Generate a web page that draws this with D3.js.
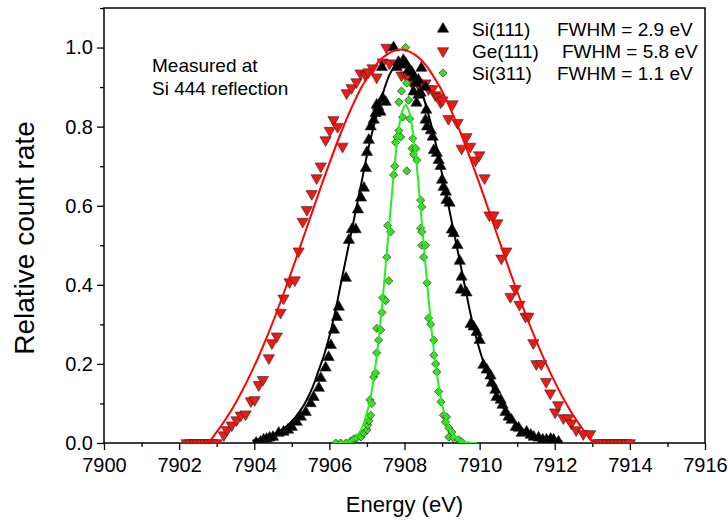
<!DOCTYPE html>
<html><head><meta charset="utf-8">
<script src="https://cdn.jsdelivr.net/npm/d3@7"></script>
<style>body{margin:0;background:#fff}svg text{font-family:"Liberation Sans",Arial,sans-serif}</style>
</head><body><svg id="c" width="728" height="522"></svg>
<script>
// ---- data (energy eV, relative count rate) ----
const geData = [[7902.2,0],[7902.3,0],[7902.4,0],[7902.5,0],[7902.6,0],[7902.7,0],[7902.8,0],[7902.9,0],[7903.0,0],
[7903.19,0.02],[7903.27,0.033],[7903.40,0.045],[7903.53,0.058],[7903.64,0.07],[7903.77,0.073],[7903.91,0.106],[7904.01,0.109],[7904.12,0.147],[7904.23,0.16],[7904.39,0.215],[7904.47,0.253],[7904.60,0.27],[7904.70,0.33],[7904.78,0.366],[7904.94,0.407],[7905.08,0.412],[7905.18,0.485],[7905.29,0.56],[7905.40,0.59],[7905.53,0.63],[7905.66,0.67],[7905.77,0.70],[7905.90,0.766],[7906.01,0.79],[7906.11,0.817],[7906.22,0.80],[7906.35,0.75],[7906.46,0.885],[7906.59,0.898],[7906.72,0.913],[7906.83,0.935],[7906.96,0.93],[7907.04,0.938],[7907.15,0.948],[7907.26,0.925],[7907.42,0.963],[7907.52,1.0],[7907.60,0.96],[7907.76,0.96],[7907.92,0.93],[7908.03,0.93],[7908.11,0.925],[7908.21,0.91],[7908.35,0.91],[7908.43,0.90],[7908.56,0.91],[7908.64,0.895],[7908.74,0.895],[7908.82,0.88],[7908.90,0.875],[7908.96,0.862],[7909.01,0.867],[7909.17,0.82],[7909.28,0.857],[7909.41,0.81],[7909.52,0.745],[7909.65,0.774],[7909.75,0.75],[7909.89,0.715],[7909.99,0.728],[7910.13,0.67],[7910.26,0.576],[7910.37,0.576],[7910.47,0.556],[7910.58,0.467],[7910.71,0.485],[7910.82,0.37],[7910.95,0.39],[7911.06,0.35],[7911.22,0.32],[7911.30,0.32],[7911.43,0.253],[7911.51,0.20],[7911.64,0.20],[7911.77,0.155],[7911.88,0.126],[7912.01,0.078],[7912.09,0.096],[7912.23,0.063],[7912.36,0.063],[7912.44,0.05],[7912.57,0.033],[7912.76,0.023],[7912.94,0.023],
[7913.1,0],[7913.2,0],[7913.3,0],[7913.4,0],[7913.5,0],[7913.6,0],[7913.7,0],[7913.8,0],[7913.9,0],[7914.0,0]];

const si111Data = [[7904.05,0],[7904.17,0.003],[7904.25,0.008],[7904.33,0.01],[7904.41,0.013],[7904.5,0.015],[7904.65,0.025],[7904.78,0.028],[7904.9,0.033],[7905.0,0.04],[7905.13,0.053],[7905.24,0.066],[7905.37,0.078],[7905.5,0.1],[7905.58,0.116],[7905.72,0.139],[7905.77,0.164],[7905.9,0.19],[7905.98,0.217],[7906.04,0.247],[7906.12,0.286],[7906.2,0.318],[7906.25,0.344],[7906.44,0.417],[7906.52,0.513],[7906.6,0.54],[7906.7,0.54],[7906.76,0.59],[7906.84,0.62],[7906.92,0.645],[7906.97,0.695],[7907.0,0.735],[7907.05,0.766],[7907.1,0.8],[7907.18,0.817],[7907.23,0.834],[7907.3,0.85],[7907.26,0.855],[7907.36,0.837],[7907.5,0.862],[7907.42,0.872],[7907.4,0.95],[7907.71,1.0],[7907.79,0.95],[7907.84,0.963],[7907.97,0.968],[7908.03,0.96],[7907.92,0.956],[7908.11,0.943],[7908.19,0.938],[7908.24,0.925],[7908.45,0.948],[7908.29,0.91],[7908.37,0.918],[7908.37,0.88],[7908.56,0.9],[7908.43,0.885],[7908.24,0.888],[7908.32,0.86],[7908.58,0.842],[7908.6,0.80],[7908.7,0.79],[7908.56,0.817],[7908.75,0.774],[7908.78,0.74],[7908.86,0.733],[7908.91,0.715],[7908.96,0.70],[7909.0,0.665],[7909.04,0.647],[7909.1,0.635],[7909.12,0.614],[7909.2,0.607],[7909.26,0.539],[7909.31,0.53],[7909.41,0.5],[7909.47,0.46],[7909.52,0.42],[7909.5,0.387],[7909.65,0.38],[7909.76,0.3],[7909.84,0.294],[7909.92,0.28],[7910.0,0.26],[7910.1,0.197],[7910.19,0.185],[7910.29,0.17],[7910.32,0.152],[7910.42,0.134],[7910.45,0.116],[7910.56,0.109],[7910.61,0.096],[7910.69,0.078],[7910.77,0.066],[7910.85,0.058],[7910.96,0.04],[7911.04,0.038],[7911.12,0.025],[7911.25,0.028],[7911.36,0.02],[7911.44,0.015],[7911.57,0.013],[7911.68,0.008],[7911.78,0.008],[7911.89,0.01],[7911.97,0.008],[7912.1,0.003]];

const si311Data = [[7906.17,0],[7906.3,0],[7906.44,0],[7906.57,0.005],[7906.65,0.01],[7906.73,0.013],[7906.84,0.015],[7906.92,0.025],[7907.0,0.033],[7907.02,0.045],[7907.05,0.056],[7907.1,0.07],[7907.08,0.109],[7907.13,0.1],[7907.18,0.167],[7907.23,0.177],[7907.26,0.228],[7907.31,0.26],[7907.26,0.29],[7907.37,0.286],[7907.4,0.33],[7907.42,0.367],[7907.5,0.36],[7907.58,0.41],[7907.53,0.47],[7907.55,0.55],[7907.63,0.534],[7907.71,0.678],[7907.74,0.70],[7907.76,0.76],[7907.8,0.774],[7907.9,0.774],[7907.85,0.79],[7907.95,0.824],[7907.85,0.862],[7907.92,0.89],[7908.03,1.0],[7908.06,0.91],[7908.11,0.867],[7908.14,0.82],[7908.06,0.688],[7908.22,0.77],[7908.2,0.745],[7908.3,0.745],[7908.24,0.73],[7908.33,0.715],[7908.43,0.614],[7908.46,0.597],[7908.43,0.543],[7908.46,0.534],[7908.46,0.5],[7908.56,0.5],[7908.51,0.47],[7908.6,0.405],[7908.64,0.316],[7908.7,0.3],[7908.78,0.26],[7908.78,0.222],[7908.83,0.2],[7908.86,0.18],[7908.91,0.13],[7908.97,0.104],[7909.04,0.07],[7909.12,0.066],[7909.09,0.053],[7909.18,0.038],[7909.26,0.028],[7909.18,0.015],[7909.3,0.013],[7909.44,0.008],[7909.52,0.003]];

// fitted curves
const geFit = [[7902.77,0],[7902.9,0.015],[7903.4,0.084],[7903.9,0.174],[7904.4,0.283],[7904.9,0.409],[7905.4,0.545],[7905.9,0.681],[7906.4,0.806],[7906.9,0.907],[7907.4,0.973],[7907.9,0.995],[7908.4,0.973],[7908.9,0.907],[7909.4,0.806],[7909.9,0.681],[7910.4,0.545],[7910.9,0.409],[7911.4,0.283],[7911.9,0.174],[7912.4,0.084],[7912.9,0.015],[7913.03,0]];
const si111Fit = [[7903.95,0.006],[7904.35,0.015],[7904.65,0.028],[7904.95,0.05],[7905.25,0.085],[7905.55,0.14],[7905.7,0.18],[7905.85,0.22],[7906.0,0.27],[7906.15,0.33],[7906.3,0.40],[7906.45,0.47],[7906.6,0.54],[7906.75,0.61],[7906.9,0.68],[7907.05,0.75],[7907.35,0.86],[7907.65,0.94],[7907.95,0.97],[7908.25,0.94],[7908.55,0.86],[7908.85,0.75],[7909.0,0.68],[7909.15,0.61],[7909.3,0.54],[7909.45,0.47],[7909.6,0.40],[7909.75,0.33],[7909.9,0.27],[7910.05,0.22],[7910.2,0.18],[7910.35,0.14],[7910.65,0.085],[7910.95,0.05],[7911.25,0.028],[7911.55,0.015],[7911.95,0.006],[7912.2,0.003]];
const si311Fit = [[7906.13,0],[7906.43,0.002],[7906.63,0.009],[7906.83,0.031],[7907.03,0.086],[7907.13,0.133],[7907.23,0.197],[7907.33,0.278],[7907.43,0.375],[7907.53,0.483],[7907.63,0.591],[7907.73,0.697],[7907.83,0.781],[7907.93,0.836],[7908.03,0.855],[7908.13,0.836],[7908.23,0.781],[7908.33,0.697],[7908.43,0.591],[7908.53,0.483],[7908.63,0.375],[7908.73,0.278],[7908.83,0.197],[7908.93,0.133],[7909.03,0.086],[7909.23,0.031],[7909.43,0.009],[7909.63,0.002],[7909.93,0]];

const xTicks = [7900,7902,7904,7906,7908,7910,7912,7914,7916];
const yTicks = [0.0,0.2,0.4,0.6,0.8,1.0];
const legendLabels = ["Si(111)","Ge(111)","Si(311)"];
const legendFwhm = ["FWHM = 2.9 eV","FWHM = 5.8 eV","FWHM = 1.1 eV"];
const noteLines = ["Measured at","Si 444 reflection"];

// ---- layout ----
const L=104,R=705,T=8,B=443;
const svg=d3.select("#c");
const x=d3.scaleLinear().domain([7900,7916]).range([L,R]);
const y=d3.scaleLinear().domain([0,1.1]).range([B,T]);

svg.append("defs").append("clipPath").attr("id","clip").append("rect")
  .attr("x",L).attr("y",T).attr("width",R-L).attr("height",B-T);

const font='"Liberation Sans",Arial,sans-serif';
// minor ticks
svg.append("g").attr("transform",`translate(0,${B})`)
  .call(d3.axisBottom(x).tickValues(d3.range(7901,7916,2)).tickSize(4).tickFormat("").tickSizeOuter(0))
  .call(g=>g.select(".domain").remove()).selectAll("line").attr("stroke-width",1.3);
svg.append("g").attr("transform",`translate(${L},0)`)
  .call(d3.axisLeft(y).tickValues([0.1,0.3,0.5,0.7,0.9,1.1]).tickSize(4).tickFormat("").tickSizeOuter(0))
  .call(g=>g.select(".domain").remove()).selectAll("line").attr("stroke-width",1.3);
// major ticks
const xa=svg.append("g").attr("transform",`translate(0,${B})`)
  .call(d3.axisBottom(x).tickValues(xTicks).tickSize(7).tickPadding(8).tickFormat(d3.format("d")).tickSizeOuter(0));
xa.select(".domain").remove();
xa.selectAll("line").attr("stroke-width",1.3);
xa.selectAll("text").attr("font-size",20).attr("font-family",font).attr("fill","#000");
const ya=svg.append("g").attr("transform",`translate(${L},0)`)
  .call(d3.axisLeft(y).tickValues(yTicks).tickSize(7).tickPadding(4).tickFormat(d3.format(".1f")).tickSizeOuter(0));
ya.select(".domain").remove();
ya.selectAll("line").attr("stroke-width",1.3);
ya.selectAll("text").attr("font-size",20).attr("font-family",font).attr("fill","#000");

// frame
svg.append("rect").attr("x",L).attr("y",T).attr("width",R-L).attr("height",B-T)
  .attr("fill","none").attr("stroke","#000").attr("stroke-width",1.5);

// titles
svg.append("text").attr("x",(L+R)/2).attr("y",512).attr("text-anchor","middle")
  .attr("font-size",22).text("Energy (eV)");
svg.append("text").attr("transform",`translate(34,238) rotate(-90)`).attr("text-anchor","middle")
  .attr("font-size",28).text("Relative count rate");

const plot=svg.append("g").attr("clip-path","url(#clip)");
const line=d3.line().x(d=>x(d[0])).y(d=>y(d[1])).curve(d3.curveCatmullRom);

const tri=d3.symbol().type(d3.symbolTriangle).size(55)();
const dia=d3.symbol().type(d3.symbolSquare).size(34)();

function pts(data,path,fill,rot){
  plot.append("g").selectAll("path").data(data).join("path")
   .attr("d",path).attr("transform",d=>`translate(${x(d[0])},${y(d[1])}) rotate(${rot})`)
   .attr("fill",fill).attr("stroke","#222").attr("stroke-width",0.6);
}
pts(geData,tri,"#f01a14",180);
pts(si111Data,tri,"#000",0);
pts(si311Data,dia,"#3ddc1e",45);

plot.append("path").datum(geFit).attr("d",line).attr("fill","none").attr("stroke","#ff0000").attr("stroke-width",2);
plot.append("path").datum(si111Fit).attr("d",line).attr("fill","none").attr("stroke","#000").attr("stroke-width",2);
plot.append("path").datum(si311Fit).attr("d",line).attr("fill","none").attr("stroke","#22f022").attr("stroke-width",2);

// legend
const lg=svg.append("g");
const lsym=[[tri,"#000",0],[tri,"#f01a14",180],[dia,"#3ddc1e",45]];
const fx=[557,562,557];
legendLabels.forEach((t,i)=>{
  const cy=29+i*22;
  lg.append("path").attr("d",lsym[i][0]).attr("transform",`translate(443,${cy}) rotate(${lsym[i][2]})`)
    .attr("fill",lsym[i][1]).attr("stroke","#222").attr("stroke-width",0.6);
  lg.append("text").attr("x",472).attr("y",cy+7).attr("font-size",19).text(t);
  lg.append("text").attr("x",fx[i]).attr("y",cy+7).attr("font-size",19).text(legendFwhm[i]);
});
// annotation
noteLines.forEach((t,i)=>{
  svg.append("text").attr("x",152).attr("y",72+i*23).attr("font-size",19).text(t);
});
</script></body></html>
